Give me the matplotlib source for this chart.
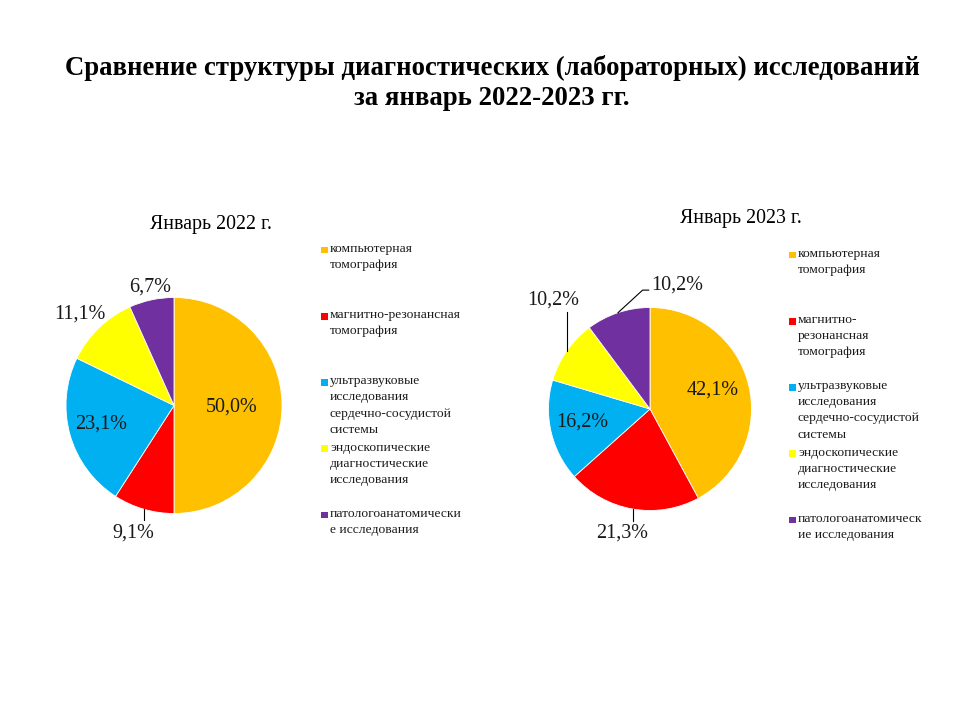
import numpy as np
import matplotlib
matplotlib.use("Agg")
from matplotlib import pyplot as plt
from matplotlib.patches import Rectangle

plt.rcParams['font.family'] = ['Liberation Serif', 'DejaVu Serif']

# ---- data ----
categories_left = ["компьютерная\nтомография",
                   "магнитно-резонансная\nтомография",
                   "ультразвуковые\nисследования\nсердечно-сосудистой\nсистемы",
                   "эндоскопические\nдиагностические\nисследования",
                   "патологоанатомически\nе исследования"]
categories_right = ["компьютерная\nтомография",
                    "магнитно-\nрезонансная\nтомография",
                    "ультразвуковые\nисследования\nсердечно-сосудистой\nсистемы",
                    "эндоскопические\nдиагностические\nисследования",
                    "патологоанатомическ\nие исследования"]
values_2022 = [50.0, 9.1, 23.1, 11.1, 6.7]
values_2023 = [42.1, 21.3, 16.2, 10.2, 10.2]
colors = ["#FFC000", "#FF0000", "#00B0F0", "#FFFF00", "#7030A0"]

title = ("Сравнение структуры диагностических (лабораторных) исследований\n"
         "за январь 2022-2023 гг.")
title_2022 = "Январь 2022 г."
title_2023 = "Январь 2023 г."

W, H = 960, 720


def fx(x):
    return x / W


def fy(y):
    return 1 - y / H


def fmt(v):
    return f"{v:.1f}%".replace(".", ",")


def draw_pie(fig, cx, cy, r, values, dists, shifts, leaders):
    ax = fig.add_axes([fx(cx - r), fy(cy + r), 2 * r / W, 2 * r / H])
    wedges, _ = ax.pie(values, colors=colors, startangle=90, counterclock=False,
                       radius=1, wedgeprops=dict(edgecolor="white", linewidth=0.6))
    ax.set_xlim(-1, 1)
    ax.set_ylim(-1, 1)
    ax.axis("off")
    for w, v, d, s, lead in zip(wedges, values, dists, shifts, leaders):
        mid = np.deg2rad((w.theta1 + w.theta2) / 2)
        ang = mid + np.deg2rad(s)
        lx, ly = d * np.cos(ang), d * np.sin(ang)
        ax.text(lx, ly, fmt(v), ha="center", va="center", fontsize=14.5, color="#1a1a1a")
        ex, ey = np.cos(mid), np.sin(mid)
        if lead == "v":
            gap = 0.12 if ly < 0 else -0.12
            ax.plot([ex, ex], [ey, ly + gap], color="black", lw=0.8, clip_on=False)
        elif lead == "elbow":
            left = lx - 0.25
            ax.plot([ex, left - 0.09, left - 0.03], [ey, ly - 0.05, ly - 0.05],
                    color="black", lw=0.8, clip_on=False)
    return ax


def draw_legend(fig, x, y0, step, labels):
    for i, (lab, col) in enumerate(zip(labels, colors)):
        yc = y0 + i * step
        fig.patches.append(Rectangle((fx(x), fy(yc + 3.3)), 6.5 / W, 6.5 / H,
                                     transform=fig.transFigure, facecolor=col,
                                     edgecolor="none"))
        fig.text(fx(x + 9), fy(yc - 7), lab, ha="left", va="top", fontsize=9.7,
                 linespacing=1.45, color="#1a1a1a")


fig = plt.figure(figsize=(9.6, 7.2), dpi=100)

fig.text(fx(492), fy(83), title, ha="center", va="center", fontsize=19.3,
         fontweight="bold", linespacing=1.3)

fig.text(fx(211), fy(224), title_2022, ha="center", va="center", fontsize=14.3)
fig.text(fx(741), fy(218), title_2023, ha="center", va="center", fontsize=14.3)

draw_pie(fig, 174, 405.5, 108, values_2022,
         dists=[0.53, 1.24, 0.70, 1.21, 1.12],
         shifts=[-1.5, -1.4, -1.5, 1.7, -0.7],
         leaders=[None, "v", None, None, None])
draw_pie(fig, 650, 409, 101.5, values_2023,
         dists=[0.65, 1.25, 0.68, 1.44, 1.25],
         shifts=[2.6, -2.8, -1.6, -13.4, -30.7],
         leaders=[None, "v", None, "v", "elbow"])

draw_legend(fig, 321, 250, 66.2, categories_left)
draw_legend(fig, 789, 255, 66.2, categories_right)

fig.savefig("out.png", dpi=100)
